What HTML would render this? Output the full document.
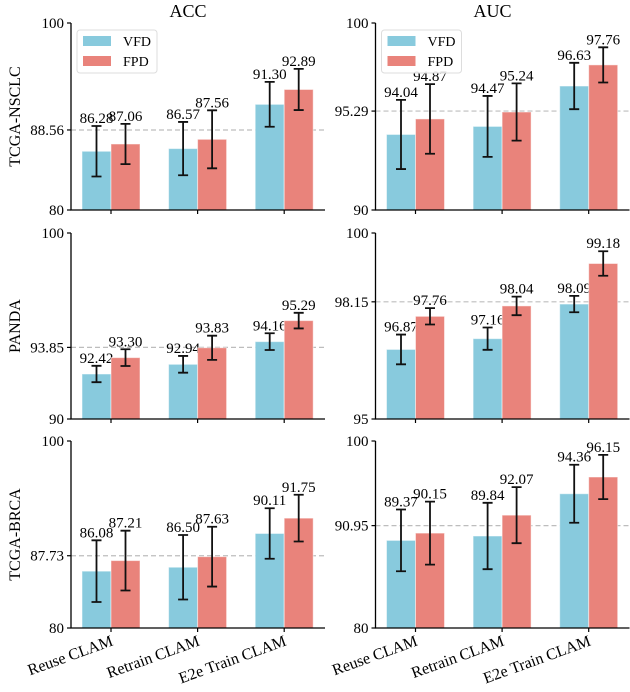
<!DOCTYPE html>
<html><head><meta charset="utf-8"><style>
html,body{margin:0;padding:0;background:#fff;}
svg, svg text{font-family:"Liberation Serif","Times New Roman",Times,serif;}
svg{display:block;}
</style></head><body>
<svg id="chart" width="630" height="692" viewBox="0 0 630 692" font-family="Liberation Serif, Times New Roman, serif" xmlns="http://www.w3.org/2000/svg"></svg>
<script>
const categories = ["Reuse CLAM", "Retrain CLAM", "E2e Train CLAM"];
const seriesNames = ["VFD", "FPD"];
const rowNames = ["TCGA-NSCLC", "PANDA", "TCGA-BRCA"];
const colNames = ["ACC", "AUC"];
const accNsclcVfd = [86.28, 86.57, 91.30];
const accNsclcFpd = [87.06, 87.56, 92.89];
const aucNsclcVfd = [94.04, 94.47, 96.63];
const aucNsclcFpd = [94.87, 95.24, 97.76];
const accPandaVfd = [92.42, 92.94, 94.16];
const accPandaFpd = [93.30, 93.83, 95.29];
const aucPandaVfd = [96.87, 97.16, 98.09];
const aucPandaFpd = [97.76, 98.04, 99.18];
const accBrcaVfd = [86.08, 86.50, 90.11];
const accBrcaFpd = [87.21, 87.63, 91.75];
const aucBrcaVfd = [89.37, 89.84, 94.36];
const aucBrcaFpd = [90.15, 92.07, 96.15];
const accNsclcVfdErr = [2.7, 2.85, 2.4];
const accNsclcFpdErr = [2.15, 3.1, 2.2];
const aucNsclcVfdErr = [1.85, 1.63, 1.24];
const aucNsclcFpdErr = [1.86, 1.53, 0.94];
const accPandaVfdErr = [0.44, 0.45, 0.45];
const accPandaFpdErr = [0.45, 0.65, 0.42];
const aucPandaVfdErr = [0.4, 0.3, 0.22];
const aucPandaFpdErr = [0.22, 0.25, 0.33];
const accBrcaVfdErr = [3.3, 3.45, 2.7];
const accBrcaFpdErr = [3.2, 3.2, 2.5];
const aucBrcaVfdErr = [3.3, 3.55, 3.1];
const aucBrcaFpdErr = [3.37, 3.0, 2.37];
const accYMin = [80, 90, 80];
const aucYMin = [90, 95, 80];
const yMax = [100, 100, 100];
const accMean = [88.56, 93.85, 87.73];
const aucMean = [95.29, 98.15, 90.95];

const svg = document.getElementById('chart');
const NS = "http://www.w3.org/2000/svg";
function mk(tag, attrs, parent) {
  const e = document.createElementNS(NS, tag);
  for (const k in attrs) e.setAttribute(k, attrs[k]);
  (parent || svg).appendChild(e);
  return e;
}
const colors = ["#88CADD", "#E9837B"];
const rowsPx = [[23, 210], [233, 419], [441, 628]];
const colsX = [71, 375.5];
const axW = 254;

const data = [
  [[[accNsclcVfd, accNsclcFpd], [accNsclcVfdErr, accNsclcFpdErr]], [[aucNsclcVfd, aucNsclcFpd], [aucNsclcVfdErr, aucNsclcFpdErr]]],
  [[[accPandaVfd, accPandaFpd], [accPandaVfdErr, accPandaFpdErr]], [[aucPandaVfd, aucPandaFpd], [aucPandaVfdErr, aucPandaFpdErr]]],
  [[[accBrcaVfd, accBrcaFpd], [accBrcaVfdErr, accBrcaFpdErr]], [[aucBrcaVfd, aucBrcaFpd], [aucBrcaVfdErr, aucBrcaFpdErr]]]
];
const yMins = [accYMin, aucYMin];
const means = [accMean, aucMean];

colNames.forEach((c, ci) => {
  const t = mk('text', {x: colsX[ci] + axW / 2 - 10, y: 17, 'text-anchor': 'middle', 'font-size': 18, fill: '#000'});
  t.textContent = c;
  
  
});

for (let r = 0; r < 3; r++) {
  const [top, bot] = rowsPx[r];
  const rl = mk('text', {x: 0, y: 0, transform: `translate(20,${(top + bot) / 2}) rotate(-90)`, 'text-anchor': 'middle', 'font-size': 16});
  rl.textContent = rowNames[r];
  
  
  for (let c = 0; c < 2; c++) {
    const x0 = colsX[c];
    const ymin = yMins[c][r], ymax = yMax[r];
    const ys = v => bot - (v - ymin) / (ymax - ymin) * (bot - top);
    const xs = i => x0 + 40 + 86.6 * i;
    const g = mk('g', {});
    
    
    const ml = mk('line', {x1: x0, x2: x0 + axW, y1: ys(means[c][r]), y2: ys(means[c][r]), stroke: '#bdbdbd', 'stroke-width': 1.2, 'stroke-dasharray': '5,3'}, g);
    
    
    const [vals, errs] = data[r][c];
    for (let s = 0; s < 2; s++) {
      for (let i = 0; i < 3; i++) {
        const cx = xs(i) + (s === 0 ? -14.5 : 14.5);
        const v = vals[s][i], e = errs[s][i];
        const b = mk('rect', {x: cx - 14.5, y: ys(v), width: 29, height: bot - ys(v), fill: colors[s], stroke: 'rgba(255,255,255,0.5)', 'stroke-width': 1}, g);
        
        
        const yt = ys(v + e), yb = ys(v - e);
        const eb = mk('path', {d: `M${cx},${yt}V${yb}M${cx - 5},${yt}H${cx + 5}M${cx - 5},${yb}H${cx + 5}`, stroke: '#111', 'stroke-width': 1.8, fill: 'none'}, g);
        
        
        const lt = mk('text', {x: cx, y: yt - 3, 'text-anchor': 'middle', 'font-size': 15}, g);
        lt.textContent = v.toFixed(2);
        
        
      }
    }
    const ax = mk('path', {d: `M${x0},${top}V${bot}H${x0 + axW}`, stroke: '#000', 'stroke-width': 1.3, fill: 'none'}, g);
    
    
    [ymin, means[c][r], ymax].forEach(t => {
      const y = ys(t);
      mk('line', {x1: x0 - 4, x2: x0, y1: y, y2: y, stroke: '#000', 'stroke-width': 1.2}, g);
      const tl = mk('text', {x: x0 - 7, y: y + 5, 'text-anchor': 'end', 'font-size': 15}, g);
      tl.textContent = Number.isInteger(t) ? String(t) : t.toFixed(2);
      
      
    });
    for (let i = 0; i < 3; i++) {
      mk('line', {x1: xs(i), x2: xs(i), y1: bot, y2: bot + 4, stroke: '#000', 'stroke-width': 1.2}, g);
      if (r === 2) {
        const xl = mk('text', {x: 0, y: 0, transform: `translate(${xs(i) + 3},${bot + 17}) rotate(-20)`, 'text-anchor': 'end', 'font-size': 16}, g);
        xl.textContent = categories[i];
        
        
      }
    }
    if (r === 0) {
      const lg = mk('g', {transform: `translate(${x0 + 6},30)`}, g);
      
      
      mk('rect', {x: 0, y: 0, width: 80, height: 43, rx: 3, fill: 'rgba(255,255,255,0.85)', stroke: '#ddd', 'stroke-width': 1}, lg);
      seriesNames.forEach((n, s) => {
        const p = mk('rect', {x: 6, y: 6 + s * 20, width: 28, height: 10, fill: colors[s]}, lg);
        
        
        const lt = mk('text', {x: 46, y: 16 + s * 20, 'font-size': 14}, lg);
        lt.textContent = n;
        
        
      });
    }
  }
}
</script>
</body></html>
